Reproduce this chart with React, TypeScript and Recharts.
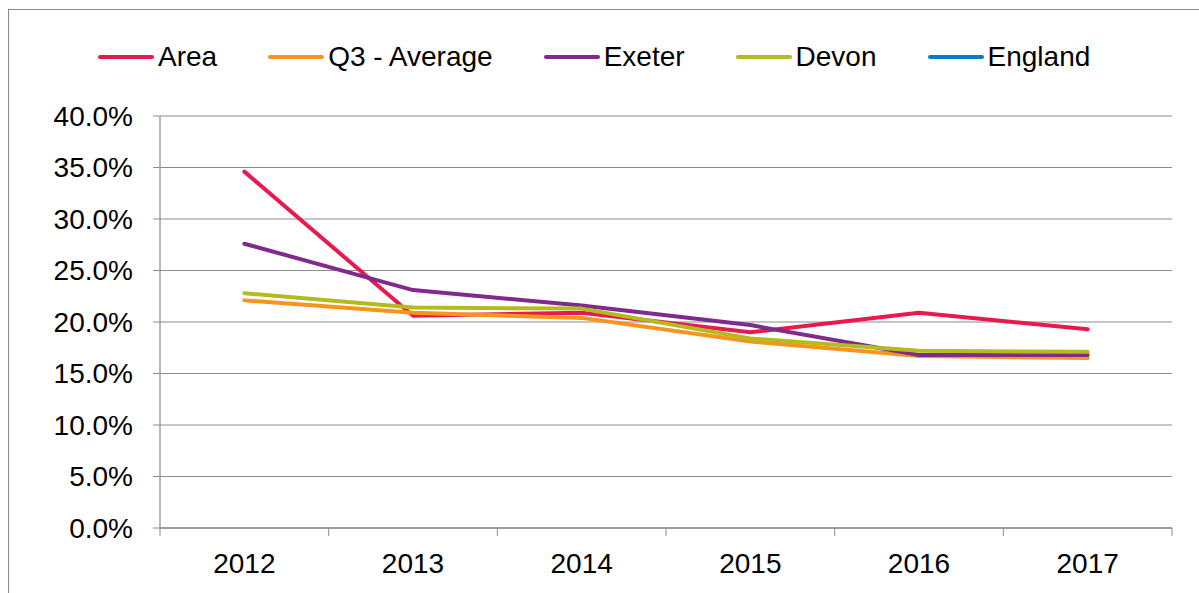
import React from "react";
import { LineChart, Line, XAxis, YAxis, CartesianGrid } from "recharts";

const years = ["2012", "2013", "2014", "2015", "2016", "2017"];
const areaValues = [0.346, 0.206, 0.209, 0.19, 0.209, 0.193];
const q3AverageValues = [0.221, 0.209, 0.204, 0.181, 0.167, 0.165];
const exeterValues = [0.276, 0.231, 0.216, 0.197, 0.168, 0.168];
const devonValues = [0.228, 0.214, 0.213, 0.184, 0.172, 0.171];
const englandValues: (number | null)[] = [null, null, null, null, null, null];
const yTicks = [0, 0.05, 0.1, 0.15, 0.2, 0.25, 0.3, 0.35, 0.4];

const series = [
  { key: "area", label: "Area", color: "#E8194F", values: areaValues },
  { key: "q3", label: "Q3 - Average", color: "#F7941E", values: q3AverageValues },
  { key: "exeter", label: "Exeter", color: "#7F2A8C", values: exeterValues },
  { key: "devon", label: "Devon", color: "#B3BC1F", values: devonValues },
  { key: "england", label: "England", color: "#0B7ACB", values: englandValues },
];

const data = years.map((year, i) => {
  const row: Record<string, string | number | null> = { year };
  series.forEach((s) => {
    row[s.key] = s.values[i];
  });
  return row;
});

const FONT = "'Liberation Sans', Arial, sans-serif";
const GRID = "#8c8c8c";

// category labels sit mid-band, tick marks sit on the band edges (Excel style)
function YearTick(props: any) {
  const { x, y, payload, index, visibleTicksCount, width } = props;
  const half = width / visibleTicksCount / 2;
  return (
    <g>
      <line x1={x - half} y1={y} x2={x - half} y2={y + 8} stroke={GRID} strokeWidth={1} />
      {index === visibleTicksCount - 1 && (
        <line x1={x + half} y1={y} x2={x + half} y2={y + 8} stroke={GRID} strokeWidth={1} />
      )}
      <text x={x} y={y + 45} textAnchor="middle" fill="#000" fontSize={28} fontFamily={FONT}>
        {payload.value}
      </text>
    </g>
  );
}

export default function App() {
  return (
    <div style={{ position: "fixed", inset: 0, overflow: "hidden", background: "#fff" }}>
      <div
        style={{
          position: "absolute",
          left: 8,
          top: 9,
          width: 1400,
          height: 800,
          border: `1px solid ${GRID}`,
        }}
      />
      <div
        style={{
          position: "absolute",
          left: 98,
          top: 41,
          display: "flex",
          alignItems: "center",
          gap: 51,
          fontFamily: FONT,
          fontSize: 28,
          color: "#000",
          whiteSpace: "nowrap",
        }}
      >
        {series.map((s) => (
          <div key={s.key} style={{ display: "flex", alignItems: "center" }}>
            <span
              style={{
                display: "inline-block",
                width: 56,
                height: 4,
                borderRadius: 2,
                background: s.color,
                marginRight: 4,
              }}
            />
            <span>{s.label}</span>
          </div>
        ))}
      </div>
      <div style={{ position: "absolute", left: 0, top: 0 }}>
        <LineChart
          width={1199}
          height={593}
          data={data}
          margin={{ top: 116, right: 27, left: 0, bottom: 0 }}
        >
          <CartesianGrid vertical={false} stroke={GRID} strokeWidth={1.2} />
          <XAxis
            dataKey="year"
            scale="band"
            height={65}
            interval={0}
            tickLine={false}
            tickSize={0}
            tickMargin={0}
            axisLine={{ stroke: GRID, strokeWidth: 1.5 }}
            tick={<YearTick />}
          />
          <YAxis
            domain={[0, 0.4]}
            ticks={yTicks}
            width={160}
            interval={0}
            tickSize={7}
            tickMargin={20}
            axisLine={{ stroke: GRID, strokeWidth: 1.2 }}
            tickLine={{ stroke: GRID }}
            tick={{ fill: "#000", fontSize: 28, fontFamily: FONT }}
            tickFormatter={(v: number) => `${(v * 100).toFixed(1)}%`}
          />
          {series.map((s) => (
            <Line
              key={s.key}
              dataKey={s.key}
              name={s.label}
              stroke={s.color}
              strokeWidth={4}
              strokeLinecap="round"
              strokeLinejoin="round"
              dot={false}
              activeDot={false}
              isAnimationActive={false}
            />
          ))}
        </LineChart>
      </div>
    </div>
  );
}
